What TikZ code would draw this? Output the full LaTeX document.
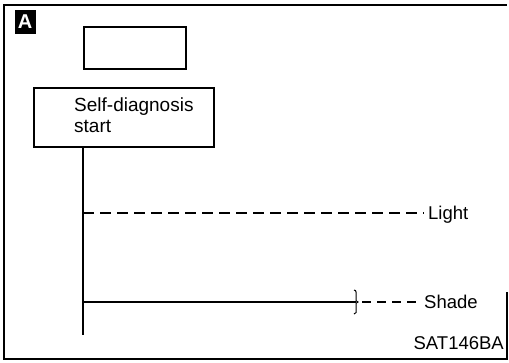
\documentclass[tikz,border=0pt]{standalone}
\usepackage{fontspec}
\setmainfont{Liberation Sans}
\begin{document}
\begin{tikzpicture}[x=1pt,y=-1pt,
  frameline/.style={line width=1.6pt},
  boxline/.style={line width=1.4pt},
  wire/.style={line width=1.1pt},
  dashwire/.style={line width=1.1pt,dash pattern=on 11pt off 6pt},
  lbl/.style={font=\fontsize{18.5}{21}\selectfont,inner sep=0pt}]
\useasboundingbox (0,0) rectangle (509,362);
% frame
\draw[frameline] (507,292) -- (507,359) -- (4,359) -- (4,5) -- (507,5);
% A badge
\node[fill=black,text=white,font=\bfseries\fontsize{20}{20}\selectfont,inner sep=0pt,minimum width=21pt,minimum height=24pt] (badge) at (25,22) {A};
% empty box
\node[draw,boxline,minimum width=102pt,minimum height=42pt,inner sep=0pt] (empty) at (135,48) {};
% self-diagnosis box
\node[draw,boxline,minimum width=180pt,minimum height=59pt,inner sep=0pt] (sd) at (124,117.5) {};
\node[lbl,font=\fontsize{19}{21}\selectfont,anchor=west,align=left] (sdtext) at (74,115) {Self-diagnosis\\start};
% time line
\coordinate (vstart) at (83,147);
\coordinate (vend) at (83,335);
\draw[wire] (vstart) -- (vend);
\coordinate (lightL) at (83,213);
\coordinate (lightR) at (424,213);
\draw[dashwire] (lightL) -- (lightR);
\node[lbl,anchor=west] (light) at (428,215) {Light};
\coordinate (shadeL) at (83,302);
\coordinate (brace) at (356,302);
\draw[wire] (shadeL) -- (brace);
\draw[line width=1pt] (354,290) .. controls (357,290) and (356,294) .. (356,297) -- (356,299) .. controls (356,301) .. (358,302) .. controls (356,303) .. (356,305) -- (356,308) .. controls (356,312) and (357,314) .. (354,314);
\coordinate (shadeD) at (362,302);
\coordinate (shadeR) at (418,302);
\draw[dashwire,dash pattern=on 9pt off 6pt] (shadeD) -- (shadeR);
\node[lbl,anchor=west] (shade) at (424,302) {Shade};
\node[lbl,anchor=east] (code) at (504,343) {SAT146BA};
\end{tikzpicture}
\end{document}
